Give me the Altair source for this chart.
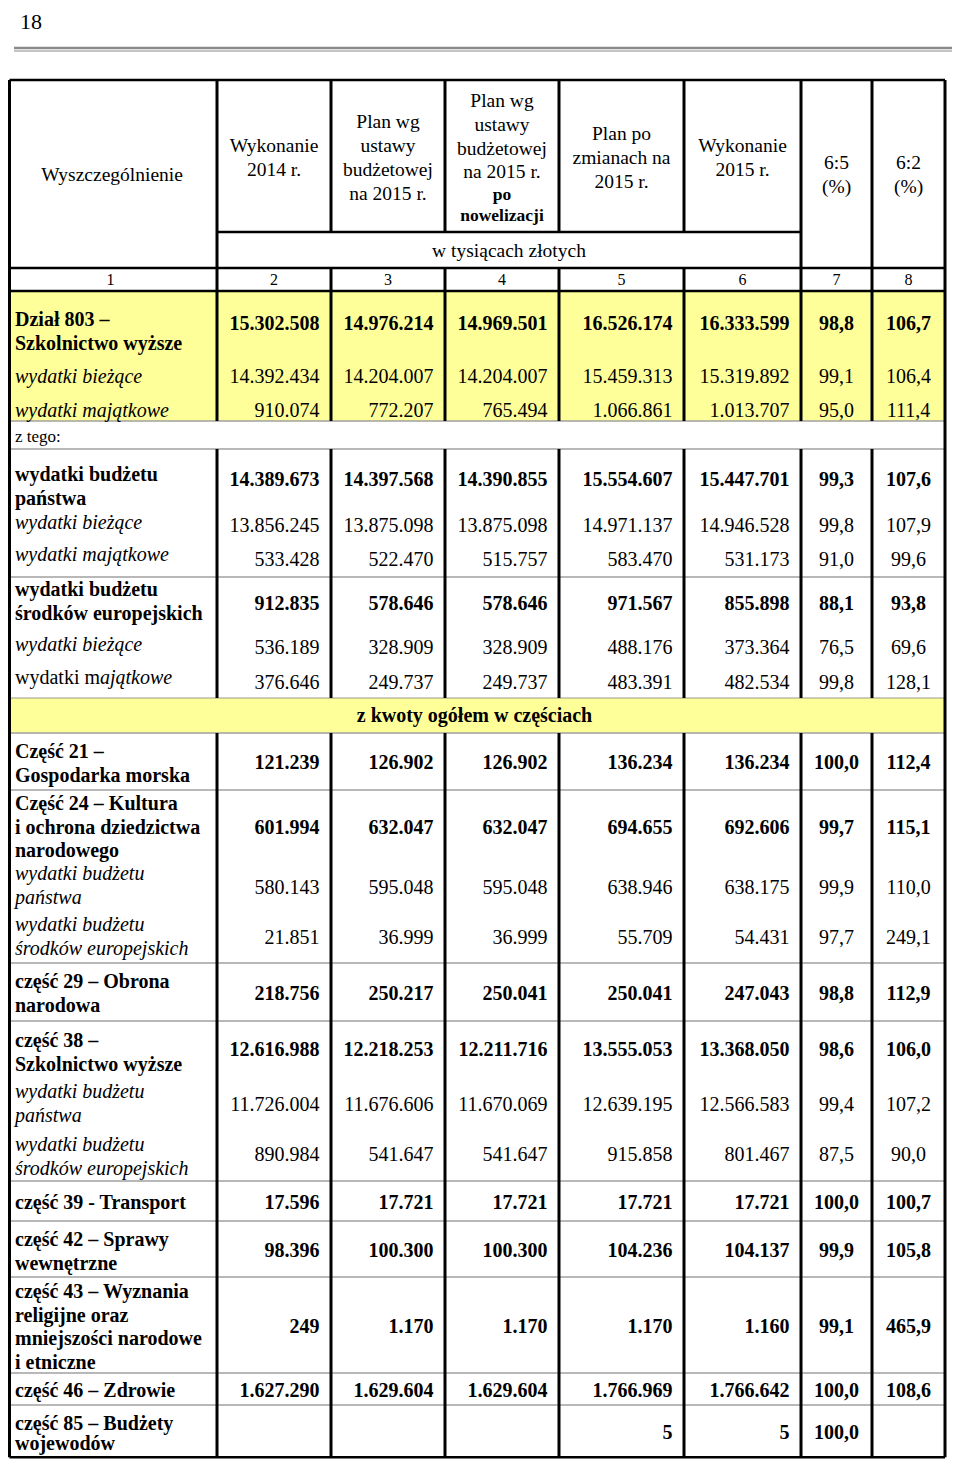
import altair as alt
import pandas as pd

# ===================== DATA =====================
page_number = "18"

header_titles = [
    "Wyszczególnienie",
    "Wykonanie\n2014 r.",
    "Plan wg\nustawy\nbudżetowej\nna 2015 r.",
    "Plan wg\nustawy\nbudżetowej\nna 2015 r.\npo\nnowelizacji",
    "Plan po\nzmianach na\n2015 r.",
    "Wykonanie\n2015 r.",
    "6:5\n(%)",
    "6:2\n(%)",
]
unit_label = "w tysiącach złotych"
column_numbers = ["1", "2", "3", "4", "5", "6", "7", "8"]
section_labels = ["z tego:", "z kwoty ogółem w częściach"]

row_labels = [
    "Dział 803 –\nSzkolnictwo wyższe",
    "wydatki bieżące",
    "wydatki majątkowe",
    "wydatki budżetu\npaństwa",
    "wydatki bieżące",
    "wydatki majątkowe",
    "wydatki budżetu\nśrodków europejskich",
    "wydatki bieżące",
    "wydatki majątkowe",
    "Część 21 –\nGospodarka morska",
    "Część 24 – Kultura\ni ochrona dziedzictwa\nnarodowego",
    "wydatki budżetu\npaństwa",
    "wydatki budżetu\nśrodków europejskich",
    "część 29 – Obrona\nnarodowa",
    "część 38 –\nSzkolnictwo wyższe",
    "wydatki budżetu\npaństwa",
    "wydatki budżetu\nśrodków europejskich",
    "część 39 - Transport",
    "część 42 – Sprawy\nwewnętrzne",
    "część 43 – Wyznania\nreligijne oraz\nmniejszości narodowe\ni etniczne",
    "część 46 – Zdrowie",
    "część 85 – Budżety\nwojewodów",
]
row_kinds = ["bold", "italic", "italic", "bold", "italic", "italic", "bold",
             "italic", "mixed", "bold", "bold", "italic", "italic", "bold",
             "bold", "italic", "italic", "bold", "bold", "bold", "bold", "bold"]

wykonanie_2014 = [15302508, 14392434, 910074, 14389673, 13856245, 533428,
                  912835, 536189, 376646, 121239, 601994, 580143, 21851,
                  218756, 12616988, 11726004, 890984, 17596, 98396, 249,
                  1627290, None]
plan_ustawa_2015 = [14976214, 14204007, 772207, 14397568, 13875098, 522470,
                    578646, 328909, 249737, 126902, 632047, 595048, 36999,
                    250217, 12218253, 11676606, 541647, 17721, 100300, 1170,
                    1629604, None]
plan_nowelizacja_2015 = [14969501, 14204007, 765494, 14390855, 13875098,
                         515757, 578646, 328909, 249737, 126902, 632047,
                         595048, 36999, 250041, 12211716, 11670069, 541647,
                         17721, 100300, 1170, 1629604, None]
plan_zmiany_2015 = [16526174, 15459313, 1066861, 15554607, 14971137, 583470,
                    971567, 488176, 483391, 136234, 694655, 638946, 55709,
                    250041, 13555053, 12639195, 915858, 17721, 104236, 1170,
                    1766969, 5]
wykonanie_2015 = [16333599, 15319892, 1013707, 15447701, 14946528, 531173,
                  855898, 373364, 482534, 136234, 692606, 638175, 54431,
                  247043, 13368050, 12566583, 801467, 17721, 104137, 1160,
                  1766642, 5]
pct_6_5 = [98.8, 99.1, 95.0, 99.3, 99.8, 91.0, 88.1, 76.5, 99.8, 100.0, 99.7,
           99.9, 97.7, 98.8, 98.6, 99.4, 87.5, 100.0, 99.9, 99.1, 100.0, 100.0]
pct_6_2 = [106.7, 106.4, 111.4, 107.6, 107.9, 99.6, 93.8, 69.6, 128.1, 112.4,
           115.1, 110.0, 249.1, 112.9, 106.0, 107.2, 90.0, 100.7, 105.8, 465.9,
           108.6, None]

# ===================== LAYOUT (geometry of the printed page) =====================
COL_EDGES = [4, 217, 331, 445, 559, 684, 801, 872, 945]
LEFT_BORDER = 9.5
RIGHT_BORDER = 945
Y_TOP, Y_HEAD, Y_UNIT, Y_NUMS, Y_BOTTOM = 80, 232, 268, 291, 1464
MERGED_ROWS = [(421, 449), (698, 733)]
YELLOW_BANDS = [(291, 421), (698, 733)]
GRAY_LINES = [421, 449, 577, 733, 790, 963, 1021, 1181, 1221, 1277, 1373, 1405]
DOTTED_LINES = [698]
HEADER_LINE_Y = [[175], [146, 169.5], [122, 146, 170, 193.5],
                 [101, 125, 148.5, 172, 195, 216], [134, 158, 181.5],
                 [146, 169.5], [163, 187], [163, 187]]
HEADER_BOLD = {(3, 4), (3, 5)}
LABEL_Y = [320, 377, 411, 475, 523, 555, 590, 645, 678, 752, 804, 874, 925,
           982, 1041, 1092, 1145, 1203, 1240, 1292, 1391, 1426]
VALUE_Y = [324, 377, 411, 480, 526, 560, 604, 648, 683, 763, 828, 888, 938,
           994, 1050, 1105, 1155, 1203, 1251, 1327, 1391, 1437]
LINE_H = 23.5
LABEL_X = 15
MIXED_SPLIT_X = 100
NUM_PAD = 11.5
SECTION_Y = [437, 716]
PAGE_NUM_POS = (20, 22)

FONT = "Liberation Serif"

# ===================== build tables =====================
def fmt_int(v):
    return "" if v is None else f"{v:,}".replace(",", ".")


def fmt_pct(v):
    return "" if v is None else f"{v:.1f}".replace(".", ",")


col_centers = [(COL_EDGES[i] + COL_EDGES[i + 1]) / 2 for i in range(8)]
col_centers[0] = 112

rules = []
rules.append(dict(x=14, x2=960, y=48, y2=48, kind="page_thick"))
rules.append(dict(x=14, x2=960, y=51, y2=51, kind="page_thin"))
for yy in [Y_TOP, Y_UNIT, Y_NUMS, Y_BOTTOM]:
    rules.append(dict(x=LEFT_BORDER, x2=RIGHT_BORDER, y=yy, y2=yy, kind="black_h"))
rules.append(dict(x=COL_EDGES[1], x2=COL_EDGES[6], y=Y_HEAD, y2=Y_HEAD, kind="black_h"))
for yy in GRAY_LINES:
    rules.append(dict(x=LEFT_BORDER, x2=RIGHT_BORDER, y=yy, y2=yy, kind="gray"))
for yy in DOTTED_LINES:
    rules.append(dict(x=LEFT_BORDER, x2=RIGHT_BORDER, y=yy, y2=yy, kind="dotted"))
for xx in [LEFT_BORDER, RIGHT_BORDER]:
    rules.append(dict(x=xx, x2=xx, y=Y_TOP, y2=Y_BOTTOM, kind="black_v"))
for i in range(1, 8):
    xx = COL_EDGES[i]
    if i in (1, 6, 7):
        segs = [(Y_TOP, MERGED_ROWS[0][0])]
    else:
        segs = [(Y_TOP, Y_HEAD), (Y_UNIT, MERGED_ROWS[0][0])]
    segs += [(MERGED_ROWS[0][1], MERGED_ROWS[1][0]), (MERGED_ROWS[1][1], Y_BOTTOM)]
    for a, b in segs:
        rules.append(dict(x=xx, x2=xx, y=a, y2=b, kind="black_v"))
rules_df = pd.DataFrame(rules)

rects_df = pd.DataFrame([dict(x=LEFT_BORDER, x2=RIGHT_BORDER, y=a, y2=b)
                         for a, b in YELLOW_BANDS])

texts = []
texts.append(dict(x=PAGE_NUM_POS[0], y=PAGE_NUM_POS[1], text=page_number, kind="page"))
for ci, title in enumerate(header_titles):
    for li, line in enumerate(title.split("\n")):
        kind = "head_bold" if (ci, li) in HEADER_BOLD else "head"
        texts.append(dict(x=col_centers[ci], y=HEADER_LINE_Y[ci][li], text=line, kind=kind))
texts.append(dict(x=(COL_EDGES[1] + COL_EDGES[6]) / 2, y=(Y_HEAD + Y_UNIT) / 2 + 1,
                  text=unit_label, kind="head"))
for ci, num in enumerate(column_numbers):
    cx = (COL_EDGES[ci] + COL_EDGES[ci + 1]) / 2
    texts.append(dict(x=cx, y=(Y_UNIT + Y_NUMS) / 2 + 0.5, text=num, kind="colnum"))
texts.append(dict(x=LABEL_X, y=SECTION_Y[0], text=section_labels[0], kind="small"))
texts.append(dict(x=(COL_EDGES[0] + COL_EDGES[8]) / 2, y=SECTION_Y[1],
                  text=section_labels[1], kind="bold_center"))

amount_cols = [wykonanie_2014, plan_ustawa_2015, plan_nowelizacja_2015,
               plan_zmiany_2015, wykonanie_2015]
for r, label in enumerate(row_labels):
    kind = row_kinds[r]
    if kind == "mixed":
        texts.append(dict(x=LABEL_X, y=LABEL_Y[r], text=label[:9], kind="label_plain"))
        texts.append(dict(x=MIXED_SPLIT_X, y=LABEL_Y[r], text=label[9:], kind="label_italic"))
    else:
        for li, line in enumerate(label.split("\n")):
            texts.append(dict(x=LABEL_X, y=LABEL_Y[r] + li * LINE_H, text=line,
                              kind="label_" + kind))
    vkind = "bold" if kind == "bold" else "plain"
    for j, col in enumerate(amount_cols):
        texts.append(dict(x=COL_EDGES[j + 2] - NUM_PAD, y=VALUE_Y[r],
                          text=fmt_int(col[r]), kind="num_" + vkind))
    texts.append(dict(x=(COL_EDGES[6] + COL_EDGES[7]) / 2, y=VALUE_Y[r],
                      text=fmt_pct(pct_6_5[r]), kind="pct_" + vkind))
    texts.append(dict(x=(COL_EDGES[7] + COL_EDGES[8]) / 2, y=VALUE_Y[r],
                      text=fmt_pct(pct_6_2[r]), kind="pct_" + vkind))
texts_df = pd.DataFrame(texts)

# ===================== chart =====================
# page pixels -> chart pixels (the page has an 8px margin); the last row is
# squeezed a little so the bottom border stays inside the window
xs = alt.Scale(domain=[0, 960], range=[-8, 952], zero=False, nice=False)
ys = alt.Scale(domain=[0, 1405, 1467], range=[-8, 1397, 1452], zero=False, nice=False)
X = alt.X("x:Q", scale=xs, axis=None)
Y = alt.Y("y:Q", scale=ys, axis=None)

base_rect = alt.Chart(rects_df).mark_rect(color="#FFFF99").encode(
    x=X, x2="x2:Q", y=Y, y2="y2:Q")


def rule_layer(kind, **props):
    return alt.Chart(rules_df).transform_filter(
        alt.datum.kind == kind).mark_rule(**props).encode(
        x=X, x2="x2:Q", y=Y, y2="y2:Q")


def text_layer(kind, **props):
    p = dict(font=FONT, baseline="middle", color="#000000")
    p.update(props)
    return alt.Chart(texts_df).transform_filter(
        alt.datum.kind == kind).mark_text(**p).encode(x=X, y=Y, text="text:N")


layers = [
    base_rect,
    rule_layer("page_thick", color="#8a8a8a", strokeWidth=2.5),
    rule_layer("page_thin", color="#8a8a8a", strokeWidth=1),
    rule_layer("gray", color="#a0a0a0", strokeWidth=1.5),
    rule_layer("dotted", color="#777777", strokeWidth=1.5, strokeDash=[1, 1]),
    rule_layer("black_h", color="#000000", strokeWidth=2.5),
    rule_layer("black_v", color="#000000", strokeWidth=3),
    text_layer("page", fontSize=22, align="left"),
    text_layer("head", fontSize=19.5, align="center"),
    text_layer("head_bold", fontSize=17.5, fontWeight="bold", align="center"),
    text_layer("colnum", fontSize=16, align="center"),
    text_layer("small", fontSize=17, align="left"),
    text_layer("bold_center", fontSize=20, fontWeight="bold", align="center"),
    text_layer("label_bold", fontSize=20, fontWeight="bold", align="left"),
    text_layer("label_italic", fontSize=20, fontStyle="italic", align="left"),
    text_layer("label_plain", fontSize=20, align="left"),
    text_layer("num_bold", fontSize=20, fontWeight="bold", align="right"),
    text_layer("num_plain", fontSize=20, align="right"),
    text_layer("pct_bold", fontSize=20, fontWeight="bold", align="center"),
    text_layer("pct_plain", fontSize=20, align="center"),
]

chart = alt.layer(*layers).properties(
    width=944, height=1453, padding=0,
    autosize=alt.AutoSizeParams(type="none"),
    background="white",
).configure_view(stroke="transparent")

chart.save("out.html", embed_options={"renderer": "svg", "actions": False})
